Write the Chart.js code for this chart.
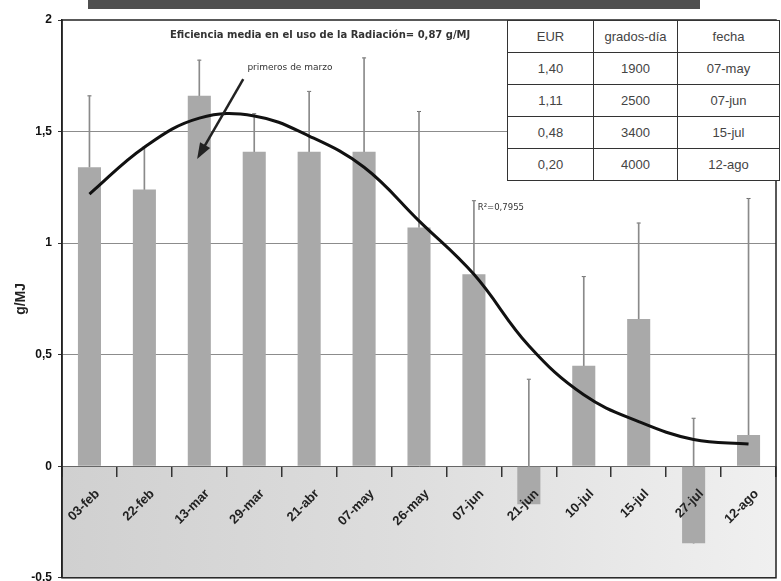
<!DOCTYPE html>
<html>
<head>
<meta charset="utf-8">
<script src="https://cdn.jsdelivr.net/npm/chart.js@4.4.0/dist/chart.umd.min.js"></script>
<style>
  body { margin: 0; background: #fff; }
  #wrap { position: relative; width: 781px; height: 581px; overflow: hidden; }
  #topbar { position: absolute; left: 88px; top: 0; width: 612px; height: 9px; background: #4f4f4f; }
  #eur {
    position: absolute; left: 507px; top: 20px; width: 272px;
    border-collapse: collapse; table-layout: fixed; background: #fff;
    font-family: 'Liberation Sans', Arial, sans-serif; font-size: 13px; color: #444;
  }
  #eur td { border: 1.5px solid #333; text-align: center; height: 31px; padding: 0; }
</style>
</head>
<body>
<div id="wrap">
  <canvas id="chart" width="781" height="591"></canvas>
  <div id="topbar"></div>
  <table id="eur"></table>
</div>
<script>
const categories = ['03-feb', '22-feb', '13-mar', '29-mar', '21-abr', '07-may', '26-may', '07-jun', '21-jun', '10-jul', '15-jul', '27-jul', '12-ago'];
const eurValues = [1.34, 1.24, 1.66, 1.41, 1.41, 1.41, 1.07, 0.86, -0.17, 0.45, 0.66, -0.345, 0.14];
const errorTops = [1.66, 1.43, 1.82, 1.58, 1.68, 1.83, 1.59, 1.19, 0.39, 0.85, 1.09, 0.215, 1.20];
const trendValues = [1.22, 1.43, 1.56, 1.57, 1.48, 1.34, 1.10, 0.86, 0.54, 0.32, 0.20, 0.12, 0.10];

const tableHeader = ['EUR', 'grados-día', 'fecha'];
const tableEur = ['1,40', '1,11', '0,48', '0,20'];
const tableGradosDia = ['1900', '2500', '3400', '4000'];
const tableFecha = ['07-may', '07-jun', '15-jul', '12-ago'];

// summary table in the top right corner
const tbl = document.getElementById('eur');
const colW = [86, 84, 102];
let html = '<colgroup>' + colW.map(w => `<col style="width:${w}px">`).join('') + '</colgroup>';
html += '<tr>' + tableHeader.map(h => `<td>${h}</td>`).join('') + '</tr>';
tableEur.forEach((v, i) => {
    html += `<tr><td>${v}</td><td>${tableGradosDia[i]}</td><td>${tableFecha[i]}</td></tr>`;
});
tbl.innerHTML = html;

const fmt = v => String(v).replace('.', ',');

const belowZero = {
    id: 'belowZero',
    beforeDraw(chart) {
        const { ctx, chartArea: a, scales: { y } } = chart;
        const y0 = y.getPixelForValue(0);
        const g = ctx.createLinearGradient(a.left, 0, a.right, 0);
        g.addColorStop(0, '#d0d0d0');
        g.addColorStop(0.5, '#dedede');
        g.addColorStop(1, '#f0f0f0');
        ctx.save();
        ctx.fillStyle = g;
        ctx.fillRect(a.left, y0, a.right - a.left, a.bottom - y0);
        ctx.restore();
    },
    afterDraw(chart) {
        const { ctx, chartArea: a } = chart;
        ctx.save();
        ctx.strokeStyle = '#222';
        ctx.lineWidth = 1.5;
        ctx.strokeRect(a.left, a.top, a.right - a.left, a.bottom - a.top);
        ctx.restore();
    }
};

const notes = {
    id: 'notes',
    afterDatasetsDraw(chart) {
        const { ctx, scales: { x, y } } = chart;
        ctx.save();
        ctx.fillStyle = '#333';
        ctx.textBaseline = 'middle';
        ctx.textAlign = 'center';
        ctx.font = "bold 10px 'DejaVu Sans', Verdana, sans-serif";
        ctx.fillText('Eficiencia media en el uso de la Radiación= 0,87 g/MJ', x.getPixelForValue(4.2), y.getPixelForValue(1.93));
        ctx.font = "9px 'DejaVu Sans', Verdana, sans-serif";
        ctx.fillText('primeros de marzo', x.getPixelForValue(3.65), y.getPixelForValue(1.785));
        ctx.textAlign = 'left';
        ctx.font = "8.5px 'DejaVu Sans', Verdana, sans-serif";
        ctx.fillText('R²=0,7955', x.getPixelForValue(7.07), y.getPixelForValue(1.157));

        // arrow towards the 13-mar bar
        const x1 = x.getPixelForValue(2.8), y1 = y.getPixelForValue(1.735);
        const x2 = x.getPixelForValue(1.96), y2 = y.getPixelForValue(1.377);
        const ang = Math.atan2(y2 - y1, x2 - x1);
        ctx.strokeStyle = '#222';
        ctx.fillStyle = '#222';
        ctx.lineWidth = 2.5;
        ctx.beginPath();
        ctx.moveTo(x1, y1);
        ctx.lineTo(x2 - 10 * Math.cos(ang), y2 - 10 * Math.sin(ang));
        ctx.stroke();
        ctx.beginPath();
        ctx.moveTo(x2, y2);
        ctx.lineTo(x2 - 17 * Math.cos(ang - 0.35), y2 - 17 * Math.sin(ang - 0.35));
        ctx.lineTo(x2 - 17 * Math.cos(ang + 0.35), y2 - 17 * Math.sin(ang + 0.35));
        ctx.closePath();
        ctx.fill();
        ctx.restore();
    }
};

new Chart(document.getElementById('chart'), {
    data: {
        labels: categories,
        datasets: [
            {
                type: 'line',
                data: trendValues,
                borderColor: '#111',
                borderWidth: 3,
                pointRadius: 0,
                tension: 0.4,
                order: 0
            },
            {
                type: 'bar',
                data: eurValues,
                backgroundColor: '#a9a9a9',
                barPercentage: 0.42,
                categoryPercentage: 1,
                order: 1
            },
            {
                type: 'bar',
                data: eurValues.map((v, i) => [v, errorTops[i]]),
                backgroundColor: '#8a8a8a',
                barThickness: 1,
                order: 2
            },
            {
                type: 'line',
                data: errorTops,
                showLine: false,
                pointStyle: 'line',
                pointRadius: 2,
                borderWidth: 1,
                borderColor: '#666',
                order: 2
            }
        ]
    },
    options: {
        responsive: false,
        animation: false,
        datasets: { bar: { grouped: false } },
        layout: { padding: { top: 20, right: 2, bottom: 3, left: 0 } },
        plugins: { legend: { display: false }, tooltip: { enabled: false } },
        scales: {
            x: {
                type: 'category',
                position: { y: 0 },
                offset: true,
                grid: { offset: true, drawOnChartArea: false, tickLength: 10, color: '#333', lineWidth: 1.5 },
                border: { display: true, color: '#666', width: 1 },
                ticks: {
                    z: 1,
                    minRotation: 45, maxRotation: 45, padding: 10, labelOffset: 8,
                    color: '#222',
                    font: { family: "'Liberation Sans', Arial, sans-serif", size: 13, weight: 'bold' }
                }
            },
            y: {
                min: -0.5, max: 2,
                afterFit(scale) { scale.width = 62; },
                ticks: {
                    stepSize: 0.5,
                    padding: 6,
                    color: '#111',
                    callback: v => fmt(v),
                    font: { family: "'Liberation Sans', Arial, sans-serif", size: 12, weight: 'bold' }
                },
                grid: {
                    color: c => (c.tick && c.tick.value > 0 && c.tick.value < 2) ? '#8c8c8c' : 'rgba(0,0,0,0)',
                    tickColor: '#333',
                    tickLength: 4
                },
                border: { display: true, color: '#222', width: 1.5 },
                title: {
                    display: true, text: 'g/MJ', color: '#222', padding: { top: 13, bottom: 0 },
                    font: { family: "'Liberation Sans', Arial, sans-serif", size: 14, weight: 'bold' }
                }
            }
        }
    },
    plugins: [belowZero, notes]
});
</script>
</body>
</html>
